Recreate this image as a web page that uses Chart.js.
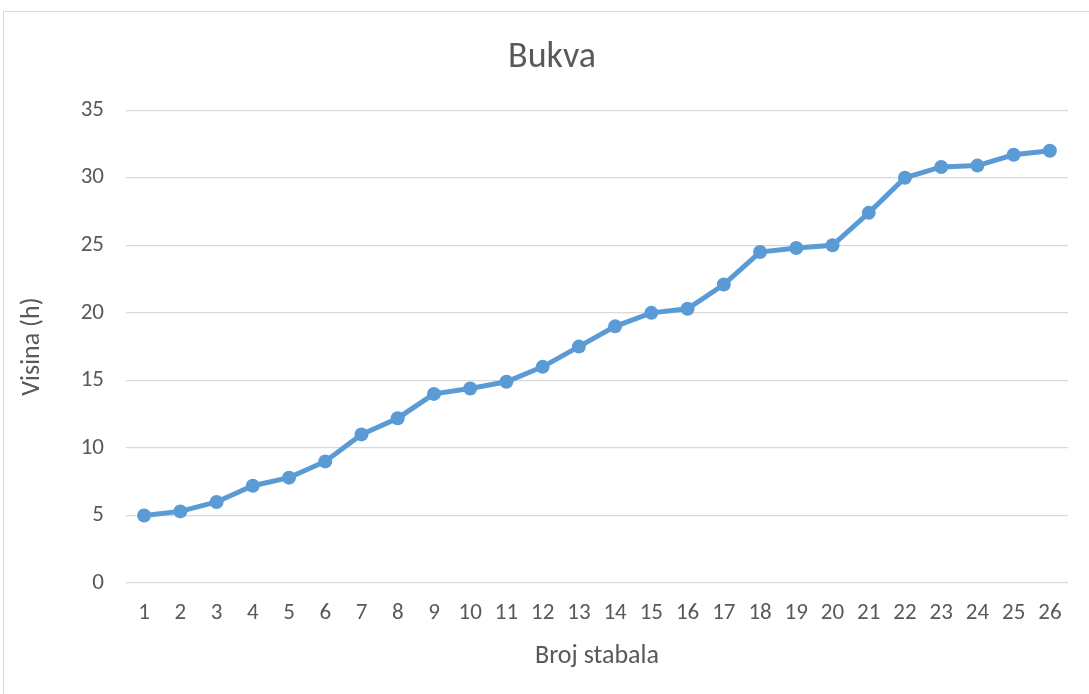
<!DOCTYPE html>
<html>
<head>
<meta charset="utf-8">
<script src="https://cdn.jsdelivr.net/npm/chart.js@4/dist/chart.umd.min.js"></script>
<style>
  html, body { margin: 0; padding: 0; background: #fff; overflow: hidden; }
  #frame {
    position: absolute; left: 3px; top: 11px;
    width: 1098px; height: 700px;
    border: 1px solid #d9d9d9; box-sizing: border-box;
  }
  #wrap { position: absolute; left: 0; top: 0; width: 1096px; height: 682px; }
</style>
</head>
<body>
<div id="frame"><div id="wrap"><canvas id="chart"></canvas></div></div>
<script>
// chart data
const treeNumbers = ['1','2','3','4','5','6','7','8','9','10','11','12','13','14','15','16','17','18','19','20','21','22','23','24','25','26'];
const heights = [5, 5.3, 6, 7.2, 7.8, 9, 11, 12.2, 14, 14.4, 14.9, 16, 17.5, 19, 20, 20.3, 22.1, 24.5, 24.8, 25, 27.4, 30, 30.8, 30.9, 31.7, 32];
const yMin = 0, yMax = 35, yStep = 5;

const FONT = "Carlito, 'Liberation Sans Narrow', 'Open Sans', sans-serif";
const TEXT = '#595959';
const GRID = '#d9d9d9';
const BLUE = '#5b9bd5';

new Chart(document.getElementById('chart'), {
  type: 'line',
  data: {
    labels: treeNumbers,
    datasets: [{
      label: 'Bukva',
      data: heights,
      borderColor: BLUE,
      backgroundColor: BLUE,
      borderWidth: 5,
      pointRadius: 7,
      pointHoverRadius: 7,
      pointBorderWidth: 0,
      tension: 0,
    }]
  },
  options: {
    responsive: true,
    maintainAspectRatio: false,
    animation: false,
    layout: { padding: 0 },
    plugins: {
      legend: { display: false },
      tooltip: { enabled: false },
      title: {
        display: true,
        text: 'Bukva',
        color: TEXT,
        font: { family: FONT, size: 36, weight: 'normal' },
        padding: { top: 24, bottom: 31 },
      },
    },
    scales: {
      x: {
        offset: true,
        grid: { display: false, drawTicks: false },
        border: { display: false },
        ticks: { color: TEXT, font: { family: FONT, size: 23 }, padding: 16, maxRotation: 0, autoSkip: false },
        title: { display: true, text: 'Broj stabala', color: TEXT, font: { family: FONT, size: 26 }, padding: { top: 0, bottom: 22 } },
        afterFit: s => { s.height = 111; },
      },
      y: {
        min: yMin, max: yMax,
        grid: { color: GRID, lineWidth: 1.3, drawTicks: false },
        border: { display: false },
        ticks: { stepSize: yStep, color: TEXT, font: { family: FONT, size: 23 }, padding: 22 },
        title: { display: true, text: 'Visina (h)', color: TEXT, font: { family: FONT, size: 26 }, padding: { top: 13, bottom: 0 } },
        afterFit: s => { s.width = 122; },
      },
      // empty right margin so the plot ends where the reference does
      yRight: {
        position: 'right',
        min: yMin, max: yMax,
        grid: { display: false, drawTicks: false },
        border: { display: false },
        ticks: { display: false },
        afterFit: s => { s.width = 32; },
      }
    }
  }
});
</script>
</body>
</html>
